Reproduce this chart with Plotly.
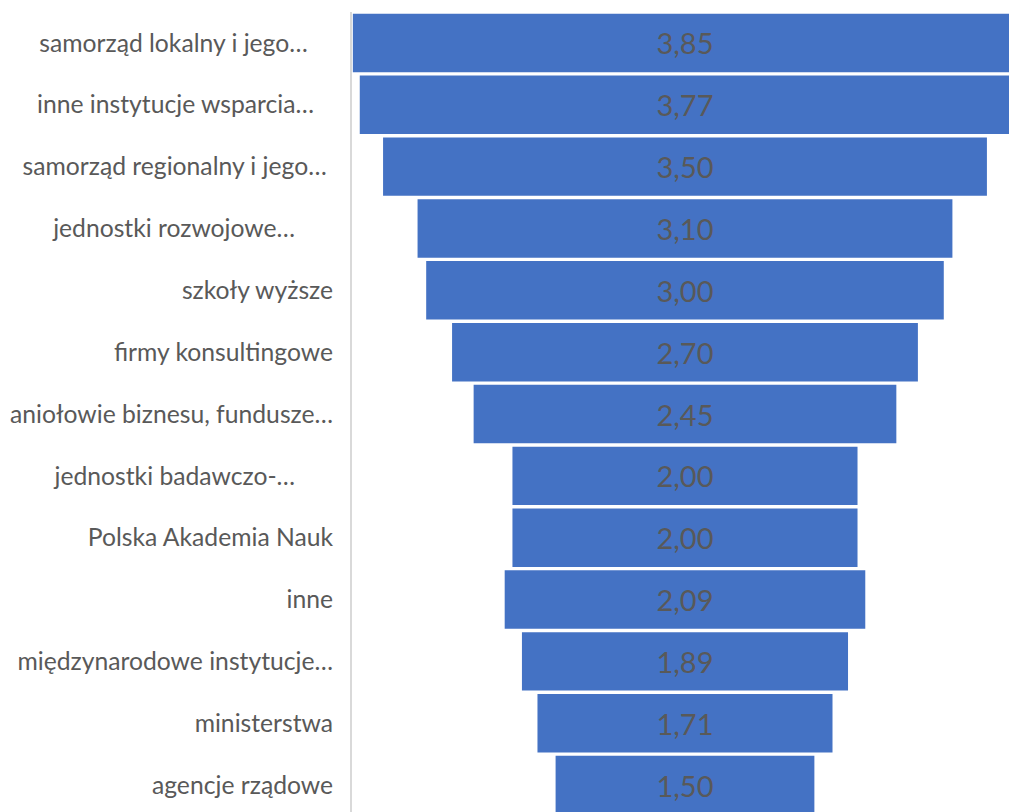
import plotly.graph_objects as go

NB = "\u00a0"
categories = [
    "samorząd lokalny i jego…" + NB * 4,
    "inne instytucje wsparcia…" + NB * 3,
    "samorząd regionalny i jego…" + NB * 1,
    "jednostki rozwojowe…" + NB * 6,
    "szkoły wyższe",
    "firmy konsultingowe",
    "aniołowie biznesu, fundusze…",
    "jednostki badawczo-…" + NB * 6,
    "Polska Akademia Nauk",
    "inne",
    "międzynarodowe instytucje…",
    "ministerstwa",
    "agencje rządowe",
]
values = [3.85, 3.77, 3.50, 3.10, 3.00, 2.70, 2.45, 2.00, 2.00, 2.09, 1.89, 1.71, 1.50]
value_labels = [f"{v:.2f}".replace(".", ",") for v in values]

FONT = "Lato, 'Open Sans', sans-serif"
GRAY = "#595959"

fig = go.Figure(
    go.Funnel(
        y=categories,
        x=values,
        orientation="h",
        text=value_labels,
        textinfo="text",
        textposition="inside",
        insidetextanchor="middle",
        textangle=0,
        textfont=dict(family=FONT, size=29, color=GRAY),
        marker=dict(color="#4472C4", line=dict(width=0)),
        connector=dict(visible=False),
        hoverinfo="skip",
    )
)

fig.update_layout(
    width=1009,
    height=812,
    margin=dict(l=352, r=0, t=12, b=0),
    paper_bgcolor="white",
    plot_bgcolor="white",
    showlegend=False,
    funnelgap=0.055,
    font=dict(family=FONT, color=GRAY),
)
fig.update_xaxes(
    range=[-1.930, 1.878],
    showticklabels=False,
    showgrid=False,
    zeroline=False,
    showline=False,
)
fig.update_yaxes(
    range=[12.435, -0.5],
    autorange=False,
    showgrid=False,
    zeroline=False,
    showline=True,
    linecolor="#d9d9d9",
    linewidth=2,
    ticks="",
    ticklabelstandoff=12,
    tickfont=dict(family=FONT, size=24.7, color=GRAY),
)

fig.write_html(
    "out.html",
    config={"displayModeBar": False},
    post_script="document.body.style.margin='0';document.body.style.overflow='hidden';",
)
